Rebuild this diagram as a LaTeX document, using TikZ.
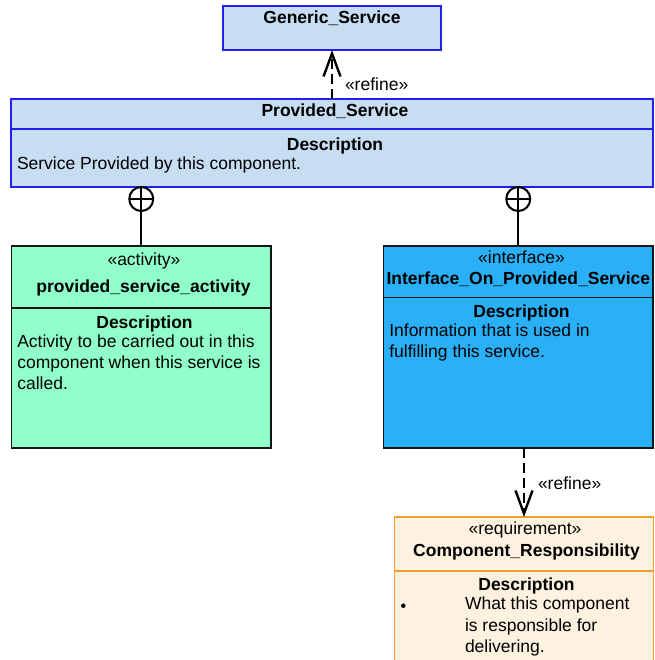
\documentclass[tikz,border=0pt]{standalone}
\usepackage{fontspec}
\setmainfont{Liberation Sans}
\usetikzlibrary{arrows.meta}

\definecolor{svcfill}{RGB}{198,221,242}
\definecolor{svcdraw}{RGB}{32,32,240}
\definecolor{actfill}{RGB}{145,255,201}
\definecolor{ifcfill}{RGB}{41,176,247}
\definecolor{reqfill}{RGB}{253,241,224}
\definecolor{reqdraw}{RGB}{247,160,50}
\definecolor{edge}{RGB}{20,20,20}

\begin{document}
\begin{tikzpicture}[x=1pt,y=-1pt,
  txt/.style={inner sep=0pt, outer sep=0pt, text height=12.5pt, text depth=0pt,
              font=\fontsize{17.5}{21}\selectfont},
  ttl/.style={txt, font=\fontsize{17.5}{21}\selectfont\bfseries},
  classbox/.style={rectangle, inner sep=0pt, outer sep=0pt, anchor=north west,
                   line width=1.2pt},
  svcbox/.style={classbox, draw=svcdraw, fill=svcfill},
  actbox/.style={classbox, draw=edge, fill=actfill},
  ifcbox/.style={classbox, draw=edge, fill=ifcfill},
  reqbox/.style={classbox, draw=reqdraw, fill=reqfill},
  refine/.style={draw=black, line width=2.6pt, dash pattern=on 10pt off 5pt,
                 -{Straight Barb[length=23pt, width=17pt, line width=2.4pt]}},
  own/.style={draw=black, line width=2pt},
  ownmark/.style={circle, draw=black, line width=2pt, fill=none, minimum size=24pt,
                  inner sep=0pt, outer sep=0pt, anchor=north},
]
\useasboundingbox (0,0) rectangle (654,660);
\clip (0,0) rectangle (654,660);

% Generic_Service
\node[svcbox, minimum width=218pt, minimum height=44pt] (gen) at (223,6) {};
\node[ttl] (genT) at (332,17) {Generic\_Service};

% Provided_Service
\node[svcbox, minimum width=642pt, minimum height=88pt] (ps) at (11,99) {};
\draw[svcdraw, line width=1.2pt] (11,129) -- (653,129);
\node[ttl] (psT) at (335,110) {Provided\_Service};
\node[ttl] (psD) at (335,144) {Description};
\node[txt, anchor=west] (psB) at (17,163) {Service Provided by this component.};

% provided_service_activity
\node[actbox, minimum width=259.5pt, minimum height=202pt] (act) at (11.5,246) {};
\draw[edge, line width=1.2pt] (11.5,308) -- (271,308);
\node[txt] (actS) at (144,259) {«activity»};
\node[ttl] (actT) at (143.5,286) {provided\_service\_activity};
\node[ttl] (actD) at (144.5,322) {Description};
\node[txt, anchor=west] (actB1) at (17.3,341.5) {Activity to be carried out in this};
\node[txt, anchor=west] (actB2) at (17.3,362.5) {component when this service is};
\node[txt, anchor=west] (actB3) at (17.3,383.5) {called.};

% Interface_On_Provided_Service
\node[ifcbox, minimum width=269.5pt, minimum height=202pt] (ifc) at (383.5,246) {};
\draw[edge, line width=1.2pt] (383.5,297.5) -- (653,297.5);
\node[txt] (ifcS) at (521.5,257) {«interface»};
\node[ttl, anchor=west] (ifcT) at (386.5,278) {Interface\_On\_Provided\_Service};
\node[ttl] (ifcD) at (521.5,311) {Description};
\node[txt, anchor=west] (ifcB1) at (389.3,330.7) {Information that is used in};
\node[txt, anchor=west] (ifcB2) at (389.3,351.7) {fulfilling this service.};

% Component_Responsibility
\node[reqbox, minimum width=259pt, minimum height=165pt] (req) at (394.5,517) {};
\draw[reqdraw, line width=1.2pt] (394.5,571) -- (653.5,571);
\node[txt] (reqS) at (525,528.5) {«requirement»};
\node[ttl] (reqT) at (526.5,550) {Component\_Responsibility};
\node[ttl] (reqD) at (526.5,584) {Description};
\node[circle, fill=black, inner sep=0pt, minimum size=4.5pt] (reqBul) at (403.3,605.7) {};
\node[txt, anchor=west] (reqB1) at (465,603.3) {What this component};
\node[txt, anchor=west] (reqB2) at (465,625) {is responsible for};
\node[txt, anchor=west] (reqB3) at (465,646.7) {delivering.};

% containment connectors
\node[ownmark] (own1) at (ps.south -| act.north) {};
\draw[own] (own1.north) -- (own1.south) -- (act.north);
\draw[own] (own1.west) -- (own1.east);
\node[ownmark] (own2) at (ps.south -| ifc.north) {};
\draw[own] (own2.north) -- (own2.south) -- (ifc.north);
\draw[own] (own2.west) -- (own2.east);

% refine dependencies
\draw[refine] (ps.north -| gen.south) -- (gen.south);
\node[txt, anchor=west] (ref1) at (345,84) {«refine»};
\draw[refine] (ifc.south -| req.north) -- (req.north);
\node[txt, anchor=west] (ref2) at (538,483) {«refine»};
\end{tikzpicture}
\end{document}
